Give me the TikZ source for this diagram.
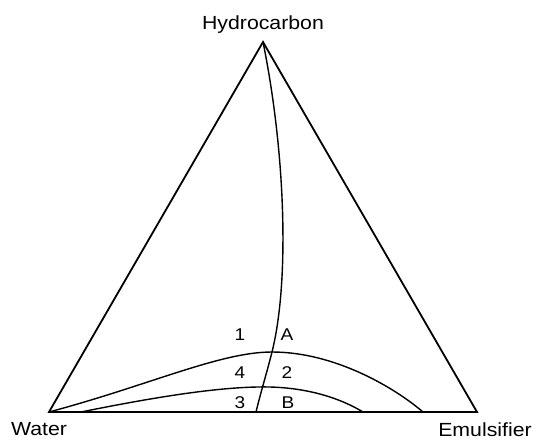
\documentclass[tikz,border=0pt]{standalone}
\usepackage{fontspec}
\setmainfont{Liberation Sans}[FakeStretch=1.12]
\begin{document}
\begin{tikzpicture}[x=1pt,y=-1pt,
  tri/.style={line width=1.8pt,line join=miter},
  crv/.style={line width=1.4pt},
  vlabel/.style={font=\fontsize{19}{22}\selectfont,inner sep=0pt},
  rlabel/.style={font=\fontsize{17}{20}\selectfont,inner sep=0pt}]
\useasboundingbox (0,0) rectangle (538,440);
\coordinate (H) at (263,42);
\coordinate (W) at (49,412);
\coordinate (E) at (477,412);
\coordinate (P) at (272,352);
\coordinate (Q) at (270,387);
\coordinate (V) at (256,412);
\coordinate (U) at (423,412);
\coordinate (L) at (81,412);
\coordinate (R) at (363,412);
\draw[tri] (W) -- (H) -- (E) -- cycle;
\draw[crv] (H) .. controls (285,150) and (290,280) .. (P) .. controls (267,372) and (260,395) .. (V);
\draw[crv] (W) .. controls (150,385) and (220,352) .. (P) .. controls (335,352) and (395,388) .. (U);
\draw[crv] (L) .. controls (160,396) and (225,386) .. (Q) .. controls (308,388) and (340,398) .. (R);
\node[vlabel] (hl) at (263,25) {Hydrocarbon};
\node[vlabel] (wl) at (39,429) {Water};
\node[vlabel] (el) at (485,430) {Emulsifier};
\node[rlabel] (l1) at (240,335) {1};
\node[rlabel] (lA) at (287,335) {A};
\node[rlabel] (l4) at (240,373) {4};
\node[rlabel] (l2) at (287,373) {2};
\node[rlabel] (l3) at (240,403) {3};
\node[rlabel] (lB) at (288,403) {B};
\end{tikzpicture}
\end{document}
